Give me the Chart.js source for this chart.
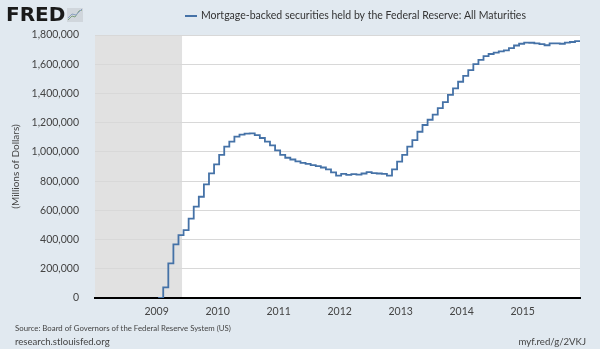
<!DOCTYPE html>
<html lang="en">
<head>
  <meta charset="UTF-8" />
  <title>Mortgage-backed securities held by the Federal Reserve</title>
  <script src="https://cdn.jsdelivr.net/npm/chart.js"></script>
  <style>
    html, body {
      margin: 0;
      padding: 0;
      background: #e1e9f0;
    }
    #wrap {
      width: 600px;
      height: 349px;
    }
  </style>
</head>
<body>
  <div id="wrap"><canvas id="fredChart" width="600" height="349"></canvas></div>

  <script>
    // monthly values (millions of dollars)
    const months = [
      '2009-01', '2009-02', '2009-03', '2009-04', '2009-05', '2009-06',
      '2009-07', '2009-08', '2009-09', '2009-10', '2009-11', '2009-12',
      '2010-01', '2010-02', '2010-03', '2010-04', '2010-05', '2010-06',
      '2010-07', '2010-08', '2010-09', '2010-10', '2010-11', '2010-12',
      '2011-01', '2011-02', '2011-03', '2011-04', '2011-05', '2011-06',
      '2011-07', '2011-08', '2011-09', '2011-10', '2011-11', '2011-12',
      '2012-01', '2012-02', '2012-03', '2012-04', '2012-05', '2012-06',
      '2012-07', '2012-08', '2012-09', '2012-10', '2012-11', '2012-12',
      '2013-01', '2013-02', '2013-03', '2013-04', '2013-05', '2013-06',
      '2013-07', '2013-08', '2013-09', '2013-10', '2013-11', '2013-12',
      '2014-01', '2014-02', '2014-03', '2014-04', '2014-05', '2014-06',
      '2014-07', '2014-08', '2014-09', '2014-10', '2014-11', '2014-12',
      '2015-01', '2015-02', '2015-03', '2015-04', '2015-05', '2015-06',
      '2015-07', '2015-08', '2015-09', '2015-10', '2015-11', '2015-12'
    ];
    const mbsHoldings = [
      0, 73000, 237000, 367000, 431000, 465000,
      543000, 625000, 693000, 778000, 853000, 915000,
      979000, 1036000, 1070000, 1104000, 1118000, 1125000,
      1127000, 1115000, 1095000, 1070000, 1045000, 1010000,
      980000, 960000, 948000, 935000, 925000, 918000,
      910000, 902000, 893000, 880000, 860000, 838000,
      850000, 842000, 848000, 845000, 852000, 862000,
      855000, 852000, 850000, 838000, 880000, 933000,
      979000, 1036000, 1081000, 1138000, 1184000, 1220000,
      1255000, 1300000, 1340000, 1390000, 1435000, 1480000,
      1520000, 1560000, 1600000, 1630000, 1655000, 1670000,
      1680000, 1688000, 1695000, 1710000, 1728000, 1740000,
      1748000, 1747000, 1743000, 1738000, 1730000, 1742000,
      1743000, 1740000, 1748000, 1752000, 1758000, 1752000
    ];
    const yTicks = [0, 200000, 400000, 600000, 800000, 1000000, 1200000, 1400000, 1600000, 1800000];
    const xTickYears = [2009, 2010, 2011, 2012, 2013, 2014, 2015];
    const recession = ['2007-12', '2009-06'];

    const seriesLabel = 'Mortgage-backed securities held by the Federal Reserve: All Maturities';
    const lineColor = '#4572a7';
    const fontFamily = "Lato, 'Open Sans', sans-serif";

    // month string -> decimal year (settlements land around the 10th)
    function toYear(s, day) {
      const [y, m] = s.split('-').map(Number);
      return y + (m - 1 + (day || 0) / 30) / 12;
    }

    const points = months.map((m, i) => ({ x: toYear(m, 9), y: mbsHoldings[i] }));

    const fredDecor = {
      id: 'fredDecor',
      beforeDraw(chart) {
        const { ctx, chartArea: a, scales: { x } } = chart;
        ctx.save();
        ctx.fillStyle = '#e1e9f0';
        ctx.fillRect(0, 0, chart.width, chart.height);
        ctx.fillStyle = '#ffffff';
        ctx.fillRect(a.left, a.top, a.right - a.left, a.bottom - a.top);

        // recession shading
        const x0 = Math.max(a.left, x.getPixelForValue(toYear(recession[0])));
        const x1 = Math.min(a.right, x.getPixelForValue(toYear(recession[1])));
        ctx.fillStyle = '#e1e1e1';
        ctx.fillRect(x0, a.top, x1 - x0, a.bottom - a.top);
        ctx.restore();
      },
      afterDraw(chart) {
        const { ctx, chartArea: a } = chart;
        ctx.save();

        // logo
        ctx.fillStyle = '#1a1a1a';
        ctx.font = "bold 20px 'DejaVu Sans', sans-serif";
        ctx.textBaseline = 'alphabetic';
        ctx.textAlign = 'left';
        ctx.fillText('FRED', 6, 21);
        ctx.fillStyle = '#d0d6dc';
        ctx.fillRect(67, 8, 16, 14);
        ctx.strokeStyle = '#7fa07f';
        ctx.lineWidth = 1;
        ctx.beginPath();
        ctx.moveTo(68, 20); ctx.lineTo(72, 16); ctx.lineTo(75, 17); ctx.lineTo(79, 11); ctx.lineTo(82, 10);
        ctx.stroke();
        ctx.strokeStyle = '#8aa0c0';
        ctx.beginPath();
        ctx.moveTo(68, 18); ctx.lineTo(72, 14); ctx.lineTo(76, 15); ctx.lineTo(82, 9);
        ctx.stroke();

        // legend
        ctx.strokeStyle = lineColor;
        ctx.lineWidth = 2;
        ctx.beginPath();
        ctx.moveTo(185, 16);
        ctx.lineTo(197, 16);
        ctx.stroke();
        ctx.fillStyle = '#333333';
        ctx.font = '10.5px ' + fontFamily;
        ctx.textBaseline = 'middle';
        ctx.fillText(seriesLabel, 201, 16);

        // y axis title
        ctx.save();
        ctx.translate(16, (a.top + a.bottom) / 2);
        ctx.rotate(-Math.PI / 2);
        ctx.textAlign = 'center';
        ctx.fillStyle = '#444444';
        ctx.font = '10px ' + fontFamily;
        ctx.fillText('(Millions of Dollars)', 0, 0);
        ctx.restore();

        // footer
        ctx.fillStyle = '#444444';
        ctx.textAlign = 'left';
        ctx.font = '7.8px ' + fontFamily;
        ctx.fillText('Source: Board of Governors of the Federal Reserve System (US)', 15, 328);
        ctx.font = '9.6px ' + fontFamily;
        ctx.fillText('research.stlouisfed.org', 15, 342);
        ctx.textAlign = 'right';
        ctx.fillText('myf.red/g/2VKJ', 586, 342);
        ctx.restore();
      }
    };

    new Chart(document.getElementById('fredChart'), {
      type: 'line',
      data: {
        datasets: [{
          label: seriesLabel,
          data: points,
          borderColor: lineColor,
          borderWidth: 1.8,
          pointRadius: 0,
          stepped: true,
          fill: false
        }]
      },
      options: {
        responsive: false,
        animation: false,
        layout: { padding: { top: 35, right: 20, left: 0, bottom: 0 } },
        plugins: {
          legend: { display: false },
          tooltip: { enabled: false }
        },
        scales: {
          x: {
            type: 'linear',
            min: 2007.99,
            max: 2015.94,
            afterBuildTicks(axis) {
              axis.ticks = xTickYears.map(v => ({ value: v }));
            },
            afterFit(axis) { axis.height = 51; },
            ticks: {
              color: '#444444',
              font: { family: fontFamily, size: 10.5 },
              padding: 7,
              maxRotation: 0,
              autoSkip: false,
              callback: v => String(v)
            },
            grid: { display: false, drawTicks: false },
            border: { display: true, color: '#000000', width: 2 }
          },
          y: {
            min: 0,
            max: 1800000,
            afterBuildTicks(axis) {
              axis.ticks = yTicks.map(v => ({ value: v }));
            },
            afterFit(axis) { axis.width = 95; },
            ticks: {
              color: '#444444',
              font: { family: fontFamily, size: 10.5 },
              padding: 16,
              callback: v => v.toLocaleString('en-US')
            },
            grid: { color: '#d8d8d8', lineWidth: 1, drawTicks: false },
            border: { display: false }
          }
        }
      },
      plugins: [fredDecor]
    });
  </script>
</body>
</html>
